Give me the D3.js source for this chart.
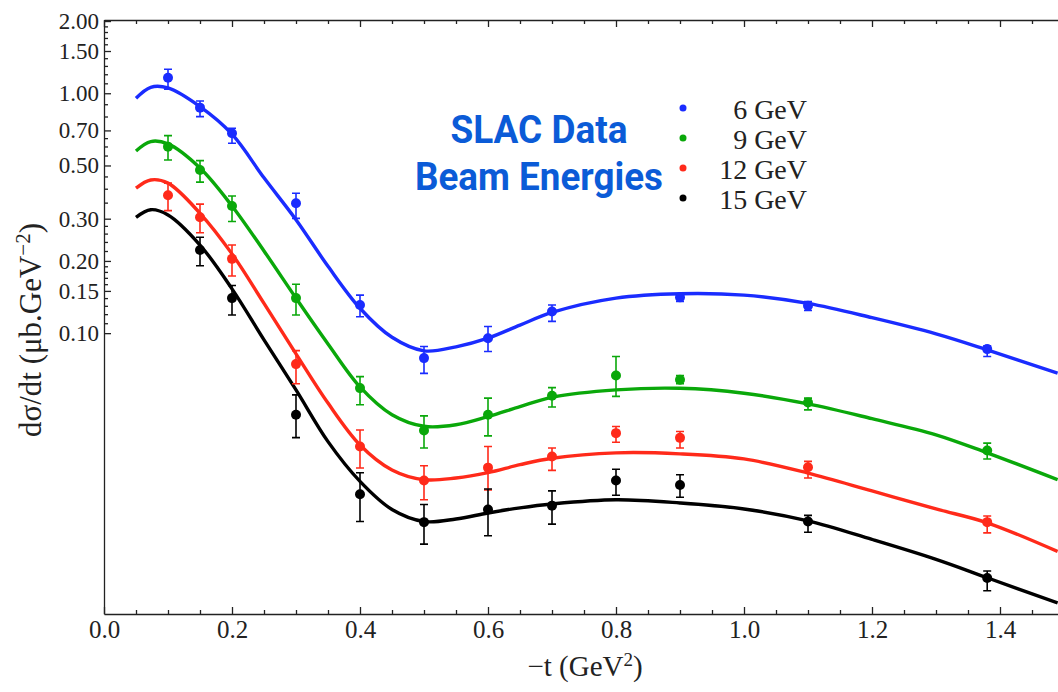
<!DOCTYPE html>
<html>
<head>
<meta charset="utf-8">
<script src="https://cdn.jsdelivr.net/npm/d3@7"></script>
<style>
  body { margin: 0; background: #fff; }
  svg { display: block; }
  .axis text { font-family: "Liberation Serif", "Times New Roman", serif; fill: #222; }
  .axis path, .axis line { stroke: #222; stroke-width: 1.3; }
</style>
</head>
<body>
<script>
// beam energies (legend) and colours
var energies = ["6 GeV", "9 GeV", "12 GeV", "15 GeV"];
var colors = ["#1a2cff", "#0aa80a", "#ff2a1a", "#000000"];

// measured points: -t, dsigma/dt, lower and upper end of error bar
var t6 = [0.1, 0.15, 0.2, 0.3, 0.4, 0.5, 0.6, 0.7, 0.9, 1.1, 1.38];
var val6 = [1.16, 0.871, 0.681, 0.348, 0.131, 0.0787, 0.0953, 0.123, 0.141, 0.130, 0.0858];
var lo6 = [1.039, 0.799, 0.619, 0.301, 0.117, 0.068, 0.0838, 0.112, 0.1355, 0.1242, 0.0799];
var hi6 = [1.259, 0.929, 0.715, 0.383, 0.144, 0.088, 0.1066, 0.131, 0.1454, 0.1355, 0.0885];

var t9 = [0.1, 0.15, 0.2, 0.3, 0.4, 0.5, 0.6, 0.7, 0.8, 0.9, 1.1, 1.38];
var val9 = [0.599, 0.479, 0.339, 0.14, 0.059, 0.0393, 0.0457, 0.0548, 0.0666, 0.0639, 0.0514, 0.0324];
var lo9 = [0.527, 0.426, 0.292, 0.119, 0.0503, 0.0332, 0.0373, 0.0492, 0.0545, 0.0615, 0.0479, 0.0299];
var hi9 = [0.666, 0.524, 0.373, 0.16, 0.0659, 0.0452, 0.0536, 0.0593, 0.0799, 0.0666, 0.0536, 0.0348];

var t12 = [0.1, 0.15, 0.2, 0.3, 0.4, 0.5, 0.6, 0.7, 0.8, 0.9, 1.1, 1.38];
var val12 = [0.376, 0.304, 0.204, 0.0743, 0.0337, 0.0243, 0.0275, 0.0306, 0.0383, 0.0366, 0.0276, 0.0163];
var lo12 = [0.324, 0.262, 0.173, 0.0615, 0.0274, 0.0202, 0.0222, 0.0268, 0.0351, 0.0332, 0.0249, 0.0147];
var hi12 = [0.422, 0.345, 0.233, 0.0846, 0.0395, 0.028, 0.0337, 0.0332, 0.0408, 0.0389, 0.0292, 0.0173];

var t15 = [0.15, 0.2, 0.3, 0.4, 0.5, 0.6, 0.7, 0.8, 0.9, 1.1, 1.38];
var val15 = [0.222, 0.14, 0.0457, 0.0213, 0.0163, 0.0184, 0.0191, 0.0243, 0.0233, 0.0164, 0.00953];
var lo15 = [0.191, 0.119, 0.0367, 0.0164, 0.0132, 0.0143, 0.016, 0.0211, 0.0207, 0.0148, 0.00844];
var hi15 = [0.251, 0.158, 0.0553, 0.0262, 0.0193, 0.0224, 0.022, 0.0271, 0.0257, 0.0174, 0.0102];

// fitted curves
var tCurve = [0.05, 0.073, 0.1, 0.15, 0.2, 0.25, 0.3, 0.35, 0.4, 0.45, 0.5, 0.55, 0.6, 0.65, 0.7, 0.8, 0.9, 1.0, 1.1, 1.2, 1.3, 1.38, 1.49];
var fit6 = [0.953, 1.059, 1.052, 0.879, 0.675, 0.444, 0.297, 0.190, 0.127, 0.0961, 0.0844, 0.0877, 0.0953, 0.108, 0.122, 0.140, 0.146, 0.144, 0.133, 0.116, 0.0993, 0.0852, 0.0681];
var fit9 = [0.575, 0.629, 0.615, 0.488, 0.339, 0.220, 0.140, 0.0902, 0.0597, 0.0457, 0.0409, 0.0415, 0.0449, 0.0494, 0.0540, 0.0580, 0.0589, 0.0562, 0.0507, 0.0440, 0.0377, 0.0317, 0.0245];
var fit12 = [0.402, 0.435, 0.422, 0.316, 0.214, 0.133, 0.0820, 0.0511, 0.0342, 0.0269, 0.0245, 0.0249, 0.0262, 0.0283, 0.0301, 0.0317, 0.0314, 0.0299, 0.0261, 0.0220, 0.0185, 0.0162, 0.0123];
var fit15 = [0.304, 0.327, 0.311, 0.233, 0.153, 0.0938, 0.0580, 0.0353, 0.0241, 0.0184, 0.0164, 0.0168, 0.0178, 0.0187, 0.0194, 0.0202, 0.0196, 0.0185, 0.0165, 0.0138, 0.0114, 0.00956, 0.0075];

// axis ticks
var xTicks = [0, 0.2, 0.4, 0.6, 0.8, 1.0, 1.2, 1.4];
var xMinor = [0.05, 0.1, 0.15, 0.25, 0.3, 0.35, 0.45, 0.5, 0.55, 0.65, 0.7, 0.75, 0.85, 0.9, 0.95, 1.05, 1.1, 1.15, 1.25, 1.3, 1.35, 1.45];
var yTicks = [0.10, 0.15, 0.20, 0.30, 0.50, 0.70, 1.00, 1.50, 2.00];
var yMinor = [0.11, 0.12, 0.13, 0.14, 0.16, 0.17, 0.18, 0.19, 0.22, 0.24, 0.26, 0.28, 0.35, 0.4, 0.45, 0.55, 0.6, 0.65, 0.8, 0.9, 1.1, 1.2, 1.3, 1.4, 1.6, 1.7, 1.8, 1.9];

var width = 1058, height = 692;
var pLeft = 104, pRight = 1058, pTop = 20, pBottom = 614;

var svg = d3.select("body").append("svg")
  .attr("width", width)
  .attr("height", height);

var x = d3.scaleLinear().domain([0, (pRight - pLeft) / 640]).range([pLeft, pRight]);
var y = d3.scaleLog().domain([0.00675, 2.02]).range([pBottom, pTop]);

// frame and ticks
svg.append("g").attr("class", "axis")
  .attr("transform", "translate(0," + pBottom + ")")
  .call(d3.axisBottom(x).tickValues(xTicks).tickFormat(d3.format(".1f"))
    .tickSizeInner(-7).tickSizeOuter(0).tickPadding(6))
  .selectAll("text").style("font-size", "25px");
svg.append("g").attr("class", "axis")
  .attr("transform", "translate(0," + pBottom + ")")
  .call(d3.axisBottom(x).tickValues(xMinor).tickFormat("").tickSizeInner(-4).tickSizeOuter(0))
  .select(".domain").remove();

svg.append("g").attr("class", "axis")
  .attr("transform", "translate(0," + pTop + ")")
  .call(d3.axisTop(x).tickValues(xTicks).tickFormat("").tickSizeInner(-7).tickSizeOuter(0));
svg.append("g").attr("class", "axis")
  .attr("transform", "translate(0," + pTop + ")")
  .call(d3.axisTop(x).tickValues(xMinor).tickFormat("").tickSizeInner(-4).tickSizeOuter(0))
  .select(".domain").remove();

svg.append("g").attr("class", "axis")
  .attr("transform", "translate(" + pLeft + ",0)")
  .call(d3.axisLeft(y).tickValues(yTicks).tickFormat(d3.format(".2f"))
    .tickSizeInner(-7).tickSizeOuter(0).tickPadding(5))
  .selectAll("text").style("font-size", "23px");
svg.append("g").attr("class", "axis")
  .attr("transform", "translate(" + pLeft + ",0)")
  .call(d3.axisLeft(y).tickValues(yMinor).tickFormat("").tickSizeInner(-4).tickSizeOuter(0))
  .select(".domain").remove();

// axis titles
svg.append("text")
  .attr("x", 585).attr("y", 676)
  .attr("text-anchor", "middle")
  .style("font-family", "Liberation Serif, serif").style("font-size", "29px").attr("fill", "#222")
  .html("\u2212t (GeV<tspan dy='-10' font-size='19px'>2</tspan><tspan dy='10'>)</tspan>");

svg.append("text")
  .attr("transform", "translate(41,330) rotate(-90)")
  .attr("text-anchor", "middle")
  .style("font-family", "Liberation Serif, serif").style("font-size", "31px").attr("fill", "#222")
  .html("d\u03c3/dt (\u03bcb.GeV<tspan dy='-11' font-size='21px'>\u22122</tspan><tspan dy='11'>)</tspan>");

var series = [
  { t: t6, v: val6, lo: lo6, hi: hi6, fit: fit6 },
  { t: t9, v: val9, lo: lo9, hi: hi9, fit: fit9 },
  { t: t12, v: val12, lo: lo12, hi: hi12, fit: fit12 },
  { t: t15, v: val15, lo: lo15, hi: hi15, fit: fit15 }
];

svg.append("clipPath").attr("id", "plot")
  .append("rect").attr("x", pLeft).attr("y", pTop).attr("width", pRight - pLeft).attr("height", pBottom - pTop);

var line = d3.line()
  .x(function(d) { return x(d[0]); })
  .y(function(d) { return y(d[1]); })
  .curve(d3.curveCatmullRom.alpha(0.5));

var plot = svg.append("g").attr("clip-path", "url(#plot)");

series.forEach(function(s, i) {
  plot.append("path")
    .datum(d3.zip(tCurve, s.fit))
    .attr("d", line)
    .attr("fill", "none")
    .attr("stroke", colors[i])
    .attr("stroke-width", 3.4)
    .attr("stroke-linejoin", "round");
});

series.forEach(function(s, i) {
  var pts = d3.zip(s.t, s.v, s.lo, s.hi);
  var g = plot.append("g").attr("stroke", colors[i]).attr("fill", colors[i]);
  g.selectAll(".bar").data(pts).enter().append("path")
    .attr("fill", "none").attr("stroke-width", 1.6)
    .attr("d", function(d) {
      var px = x(d[0]), y1 = y(d[3]), y2 = y(d[2]);
      return "M" + (px - 4) + "," + y1 + "H" + (px + 4) +
             "M" + px + "," + y1 + "V" + y2 +
             "M" + (px - 4) + "," + y2 + "H" + (px + 4);
    });
  g.selectAll("circle").data(pts).enter().append("circle")
    .attr("stroke", "none")
    .attr("cx", function(d) { return x(d[0]); })
    .attr("cy", function(d) { return y(d[1]); })
    .attr("r", 5);
});

// title
svg.append("text")
  .attr("x", 539).attr("y", 143)
  .attr("text-anchor", "middle")
  .attr("textLength", 177).attr("lengthAdjust", "spacingAndGlyphs")
  .style("font-family", "Roboto, sans-serif").style("font-weight", "bold").style("font-size", "39px")
  .attr("fill", "#0b5bd7")
  .text("SLAC Data");
svg.append("text")
  .attr("x", 539).attr("y", 190)
  .attr("text-anchor", "middle")
  .attr("textLength", 248).attr("lengthAdjust", "spacingAndGlyphs")
  .style("font-family", "Roboto, sans-serif").style("font-weight", "bold").style("font-size", "39px")
  .attr("fill", "#0b5bd7")
  .text("Beam Energies");

// legend
var legend = svg.append("g");
energies.forEach(function(e, i) {
  var by = 119 + i * 30;
  legend.append("circle").attr("cx", 683).attr("cy", by - 11).attr("r", 3.5).attr("fill", colors[i]);
  legend.append("text")
    .attr("x", 807).attr("y", by)
    .attr("text-anchor", "end")
    .style("font-family", "Liberation Serif, serif").style("font-size", "28px").attr("fill", "#222")
    .text(e);
});
</script>
</body>
</html>
